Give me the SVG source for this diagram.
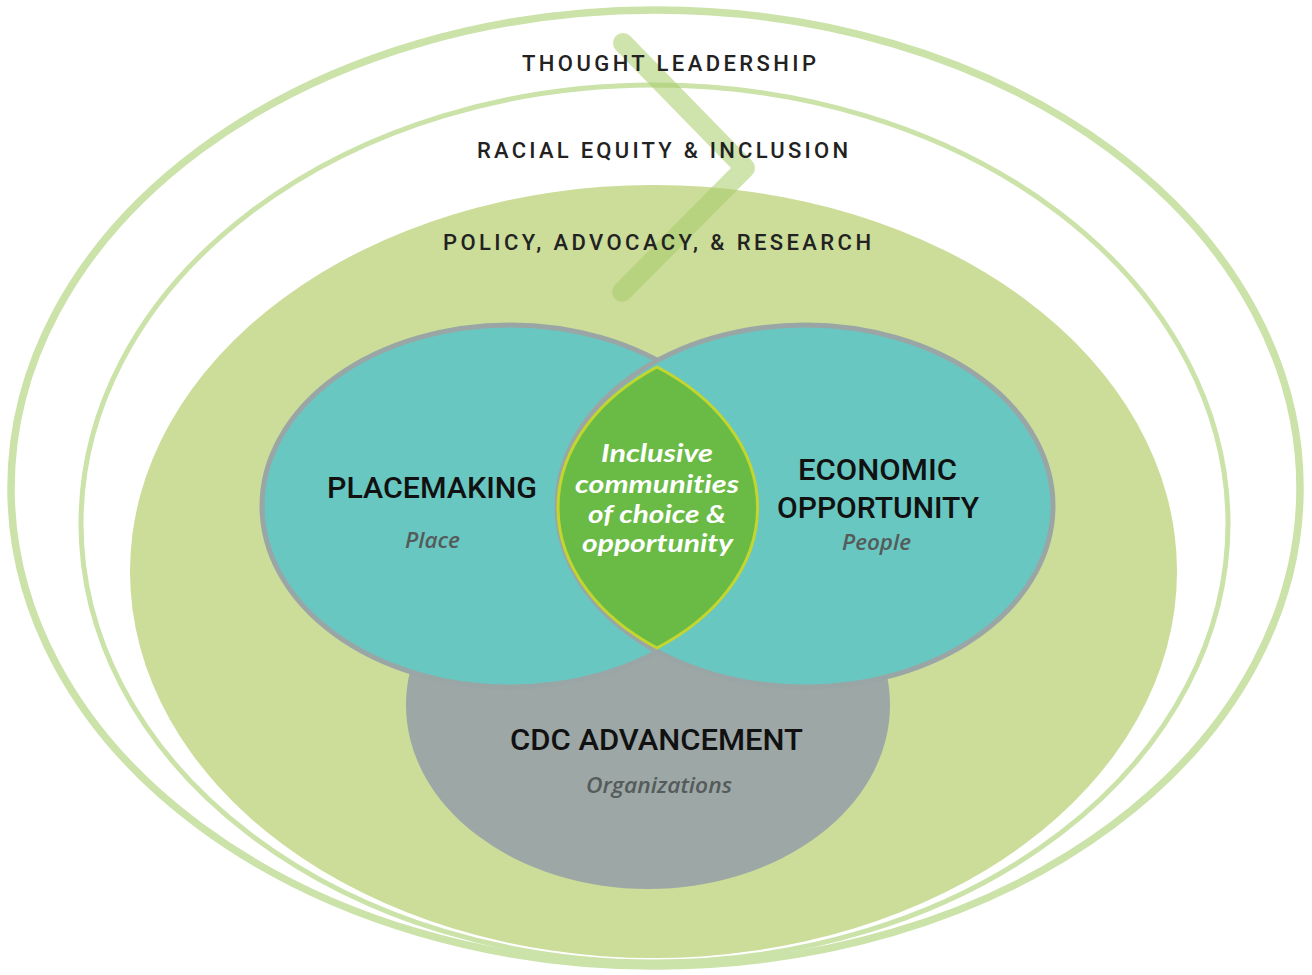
<svg xmlns="http://www.w3.org/2000/svg" width="1312" height="975" viewBox="0 0 1312 975">
  <style>
    .ring { fill: none; stroke: #cbe2a9; }
    .band { font-family: Roboto, "Liberation Sans", sans-serif; font-weight: 500; font-size: 22px; fill: #222222; }
    .head { font-family: Roboto, "Liberation Sans", sans-serif; font-weight: 500; font-size: 29px; fill: #111111; }
    .sub { font-family: "Open Sans", "Liberation Sans", sans-serif; font-style: italic; font-weight: 600; font-size: 21px; fill: #555b5b; }
    .lens { font-family: Lato, "Open Sans", "Liberation Sans", sans-serif; font-style: italic; font-weight: 700; font-size: 25px; fill: #ffffff; font-variant-ligatures: none; }
  </style>
  <rect x="0" y="0" width="1312" height="975" fill="#ffffff"/>

  <g id="thought-leadership">
    <ellipse class="ring" cx="655.5" cy="488" rx="644.5" ry="478" stroke-width="7.5"/>
  </g>
  <g id="racial-equity">
    <ellipse class="ring" cx="654.5" cy="523.5" rx="573.5" ry="438.5" stroke-width="5"/>
  </g>
  <g id="policy-advocacy">
    <ellipse cx="653.5" cy="571.5" rx="523.5" ry="386.5" fill="#ccdc99"/>
  </g>

  <g id="cdc-advancement">
    <ellipse cx="648" cy="705" rx="242" ry="184" fill="#9ca7a6"/>
  </g>
  <g id="placemaking">
    <ellipse cx="510" cy="506" rx="248" ry="181" fill="#68c7c1" stroke="#9aa6a6" stroke-width="5"/>
  </g>
  <g id="economic-opportunity">
    <ellipse cx="805" cy="506" rx="248" ry="181" fill="#68c7c1" stroke="#9aa6a6" stroke-width="5"/>
  </g>
  <g id="inclusive-communities">
    <path d="M 657 367 A 247 175.5 0 0 0 657 648 A 251 175.5 0 0 0 657 367 Z" fill="#6abb45" stroke="#c2d62e" stroke-width="3"/>
  </g>

  <g id="connectors">
    <polyline points="623,43 745,168 622,292" fill="none" stroke="#a8cc6a" stroke-opacity="0.55" stroke-width="20" stroke-linecap="round" stroke-linejoin="round"/>
  </g>

  <g id="labels">
    <text class="band" x="522" y="71" textLength="294" lengthAdjust="spacing">THOUGHT LEADERSHIP</text>
    <text class="band" x="477" y="158" textLength="371" lengthAdjust="spacing">RACIAL EQUITY &amp; INCLUSION</text>
    <text class="band" x="443" y="250" textLength="428" lengthAdjust="spacing">POLICY, ADVOCACY, &amp; RESEARCH</text>

    <text class="head" x="327" y="498" textLength="210" lengthAdjust="spacingAndGlyphs">PLACEMAKING</text>
    <text class="sub" x="405" y="548" textLength="55" lengthAdjust="spacingAndGlyphs">Place</text>

    <text class="head" x="798" y="480" textLength="159" lengthAdjust="spacingAndGlyphs">ECONOMIC</text>
    <text class="head" x="777" y="518" textLength="202" lengthAdjust="spacingAndGlyphs">OPPORTUNITY</text>
    <text class="sub" x="842" y="550" textLength="69" lengthAdjust="spacingAndGlyphs">People</text>

    <text class="head" x="510" y="750" textLength="293" lengthAdjust="spacingAndGlyphs">CDC ADVANCEMENT</text>
    <text class="sub" x="586" y="793" textLength="146" lengthAdjust="spacingAndGlyphs">Organizations</text>

    <text class="lens" x="601" y="462" textLength="112" lengthAdjust="spacingAndGlyphs">Inclusive</text>
    <text class="lens" x="575" y="493" textLength="164" lengthAdjust="spacingAndGlyphs">communities</text>
    <text class="lens" x="588" y="523" textLength="138" lengthAdjust="spacingAndGlyphs">of choice &amp;</text>
    <text class="lens" x="582" y="552" textLength="151" lengthAdjust="spacingAndGlyphs">opportunity</text>
  </g>
</svg>
